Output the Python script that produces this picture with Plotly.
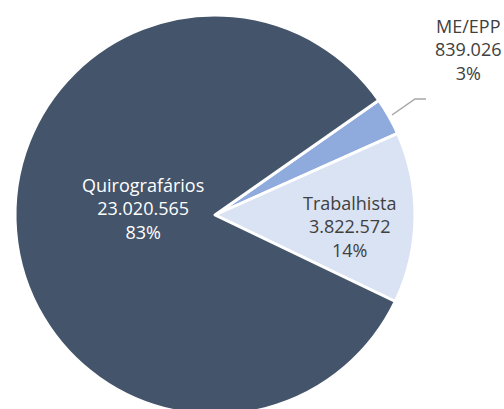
import plotly.graph_objects as go

labels = ["ME/EPP", "Trabalhista", "Quirografários"]
values = [839026, 3822572, 23020565]
colors = ["#8FAADC", "#DAE3F3", "#44546A"]
text_colors = ["#404040", "#404040", "#FFFFFF"]
# label block centers in pixels (layout)
label_px = [(468, 50), (349, 226), (143, 208)]

W, H = 504, 430
total = sum(values)

def fmt(v):
    return f"{v:,}".replace(",", ".")

fig = go.Figure(go.Pie(
    labels=labels,
    values=values,
    sort=False,
    direction="clockwise",
    rotation=55,
    marker=dict(colors=colors, line=dict(color="white", width=3)),
    textinfo="none",
    hoverinfo="skip",
    showlegend=False,
    domain=dict(x=[15 / W, 415 / W], y=[(H - 415) / H, (H - 15) / H]),
))

for lab, val, col, (px, py) in zip(labels, values, text_colors, label_px):
    pct = round(100 * val / total)
    fig.add_annotation(
        x=px / W, y=(H - py) / H, xref="paper", yref="paper",
        text=f"{lab}<br>{fmt(val)}<br>{pct}%",
        showarrow=False, xanchor="center", yanchor="middle",
        font=dict(family="Open Sans", size=18, color=col),
    )

# leader line for the small slice
fig.add_shape(type="path", xref="paper", yref="paper",
              path=f"M {392/W} {(H-115)/H} L {415/W} {(H-99)/H} L {426/W} {(H-99)/H}",
              line=dict(color="#A6A6A6", width=1.5))

fig.update_layout(
    width=W, height=H,
    margin=dict(l=0, r=0, t=0, b=0),
    paper_bgcolor="white",
    plot_bgcolor="white",
)

fig.write_html("out.html", config={"displayModeBar": False},
               post_script="document.body.style.margin='0px';document.body.style.overflow='hidden';")
